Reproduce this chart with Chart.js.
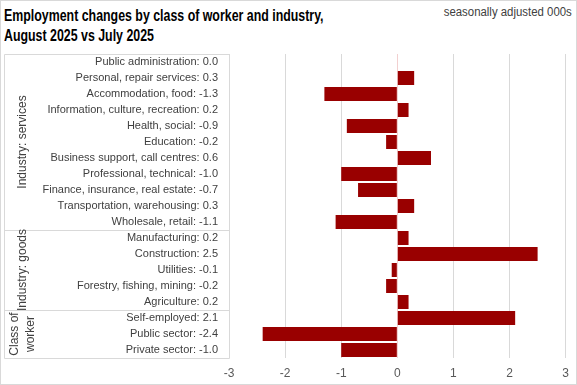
<!DOCTYPE html>
<html>
<head>
<meta charset="utf-8">
<script src="https://cdn.jsdelivr.net/npm/chart.js@4.4.1/dist/chart.umd.min.js"></script>
<style>
  html, body { margin: 0; padding: 0; background: #fff; }
  #wrap { position: relative; width: 577px; height: 385px; box-sizing: border-box; border: 1px solid #d9d9d9; overflow: hidden; }
  #title { position: absolute; left: 3px; top: 4px; font-family: "Liberation Sans", sans-serif; font-weight: bold; font-size: 16.5px; line-height: 20px; color: #000; white-space: nowrap; transform: scaleX(0.75); transform-origin: left top; }
  #unit { position: absolute; right: 4px; top: 4px; font-family: "Liberation Sans", sans-serif; font-size: 12px; color: #404040; transform: scaleX(0.95); transform-origin: right top; }
  canvas { position: absolute; left: -1px; top: -1px; }
</style>
</head>
<body>
<div id="wrap">
  <div id="title">Employment changes by class of worker and industry,<br>August 2025 vs July 2025</div>
  <div id="unit">seasonally adjusted 000s</div>
  <canvas id="c" width="577" height="385"></canvas>
</div>
<script>
const categories = [
  "Public administration", "Personal, repair services", "Accommodation, food",
  "Information, culture, recreation", "Health, social", "Education",
  "Business support, call centres", "Professional, technical",
  "Finance, insurance, real estate", "Transportation, warehousing", "Wholesale, retail",
  "Manufacturing", "Construction", "Utilities", "Forestry, fishing, mining", "Agriculture",
  "Self-employed", "Public sector", "Private sector"
];
const changes = [0.0, 0.3, -1.3, 0.2, -0.9, -0.2, 0.6, -1.0, -0.7, 0.3, -1.1,
  0.2, 2.5, -0.1, -0.2, 0.2, 2.1, -2.4, -1.0];
const groupNames = [["Industry: services"], ["Industry: goods"], ["Class of", "worker"]];
const groupSizes = [11, 5, 3];
const xTicks = [-3, -2, -1, 0, 1, 2, 3];

const FONT = '"Liberation Sans", Arial, sans-serif';
const labels = categories.map((c, i) => c + ": " + changes[i].toFixed(1));

// boxes + rotated group names on the left
const groupBoxes = {
  id: "groupBoxes",
  afterDraw(chart) {
    const { ctx, chartArea } = chart;
    const y = chart.scales.y;
    const left = 4, right = chartArea.left;
    const top = chartArea.top, bottom = chartArea.bottom;
    ctx.save();
    ctx.strokeStyle = "#d9d9d9";
    ctx.lineWidth = 1;
    ctx.beginPath();
    ctx.moveTo(left + 0.5, top + 0.5);
    ctx.lineTo(right + 0.5, top + 0.5);
    ctx.lineTo(right + 0.5, bottom + 0.5);
    ctx.lineTo(left + 0.5, bottom + 0.5);
    ctx.closePath();
    let start = 0;
    const bounds = [];
    groupSizes.forEach((n, g) => {
      const y0 = g === 0 ? top : (y.getPixelForValue(start - 1) + y.getPixelForValue(start)) / 2;
      const endIdx = start + n - 1;
      const y1 = g === groupSizes.length - 1 ? bottom : (y.getPixelForValue(endIdx) + y.getPixelForValue(endIdx + 1)) / 2;
      bounds.push([y0, y1]);
      if (g > 0) {
        ctx.moveTo(left, Math.round(y0) + 0.5);
        ctx.lineTo(right, Math.round(y0) + 0.5);
      }
      start += n;
    });
    ctx.stroke();
    ctx.fillStyle = "#404040";
    ctx.font = "12px " + FONT;
    ctx.textAlign = "center";
    ctx.textBaseline = "middle";
    bounds.forEach(([y0, y1], g) => {
      const lines = groupNames[g];
      ctx.save();
      ctx.translate(23, (y0 + y1) / 2);
      ctx.rotate(-Math.PI / 2);
      lines.forEach((t, k) => {
        ctx.fillText(t, 0, (k - (lines.length - 1) / 2) * 16);
      });
      ctx.restore();
    });
    ctx.restore();
  }
};

new Chart(document.getElementById("c"), {
  type: "bar",
  data: {
    labels: labels,
    datasets: [{
      data: changes,
      backgroundColor: "#990000",
      barPercentage: 0.88,
      categoryPercentage: 1.0
    }]
  },
  options: {
    indexAxis: "y",
    responsive: false,
    animation: false,
    layout: { padding: { top: 54, right: 11, bottom: 4, left: 0 } },
    plugins: { legend: { display: false }, tooltip: { enabled: false } },
    scales: {
      x: {
        min: -3, max: 3,
        afterBuildTicks(scale) { scale.ticks = xTicks.map(v => ({ value: v })); },
        ticks: { color: "#595959", font: { family: FONT, size: 12 }, padding: 8 },
        grid: {
          drawTicks: false,
          color: (c) => c.tick && c.tick.value === 0 ? "#f2d0d0" : "#d9d9d9"
        },
        border: { display: false },
        afterFit(scale) { scale.height = 23; }
      },
      y: {
        ticks: { color: "#404040", font: { family: FONT, size: 11 }, padding: 11, autoSkip: false },
        grid: { display: false, drawTicks: false },
        border: { display: false },
        afterFit(scale) { scale.width = 229; }
      }
    }
  },
  plugins: [groupBoxes]
});
</script>
</body>
</html>
